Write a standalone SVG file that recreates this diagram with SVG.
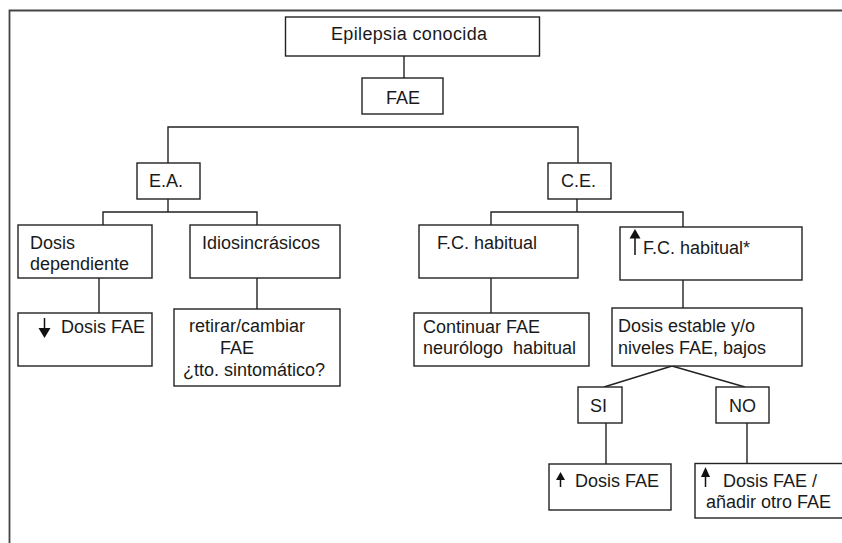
<svg xmlns="http://www.w3.org/2000/svg" width="842" height="543" viewBox="0 0 842 543">
<style>
  .box { fill: #ffffff; stroke: #222222; stroke-width: 1.4; }
  .ln { fill: none; stroke: #222222; stroke-width: 1.4; }
  .t { font-family: "Liberation Sans", Arial, sans-serif; font-size: 18px; fill: #1a1a1a; }
  .m { text-anchor: middle; }
  .arr { fill: #111111; stroke: none; }
  .shaft { stroke: #111111; stroke-width: 1.5; fill: none; }
</style>
<rect x="0" y="0" width="842" height="543" fill="#ffffff"/>
<path d="M9.5,543 V10.5 H842" fill="none" stroke="#444444" stroke-width="1.8"/>

<g id="connectors">
  <line class="ln" x1="404" y1="56" x2="404" y2="78"/>
  <polyline class="ln" points="168,163 168,127 578,127 578,163"/>
  <line class="ln" x1="168" y1="199" x2="168" y2="212"/>
  <polyline class="ln" points="103,225 103,212 257,212 257,225"/>
  <line class="ln" x1="577" y1="199" x2="577" y2="212"/>
  <polyline class="ln" points="491,225 491,212 683,212 683,227"/>
  <line class="ln" x1="99" y1="278" x2="99" y2="313"/>
  <line class="ln" x1="257" y1="278" x2="257" y2="309"/>
  <line class="ln" x1="491" y1="278" x2="491" y2="313"/>
  <line class="ln" x1="683" y1="280" x2="683" y2="308"/>
  <line class="ln" x1="672" y1="366" x2="604" y2="387"/>
  <line class="ln" x1="672" y1="366" x2="745" y2="387"/>
  <line class="ln" x1="606" y1="423" x2="606" y2="464"/>
  <line class="ln" x1="747" y1="423" x2="747" y2="464"/>
</g>

<g id="epilepsia">
  <rect class="box" x="285.5" y="17" width="254" height="39"/>
  <text class="t m" x="409" y="40" textLength="156">Epilepsia conocida</text>
</g>
<g id="fae">
  <rect class="box" x="362" y="78" width="81" height="36"/>
  <text class="t m" x="403" y="104">FAE</text>
</g>
<g id="ea">
  <rect class="box" x="137" y="163" width="63" height="36"/>
  <text class="t" x="149" y="187">E.A.</text>
</g>
<g id="ce">
  <rect class="box" x="548" y="163" width="63" height="36"/>
  <text class="t" x="561" y="187">C.E.</text>
</g>
<g id="dosis-dependiente">
  <rect class="box" x="18" y="225" width="134" height="53"/>
  <text class="t" x="30" y="249">Dosis</text>
  <text class="t" x="30" y="270">dependiente</text>
</g>
<g id="idiosincrasicos">
  <rect class="box" x="190" y="225" width="150" height="53"/>
  <text class="t" x="202" y="249">Idiosincrásicos</text>
</g>
<g id="bajar-dosis">
  <rect class="box" x="18" y="313" width="134" height="53"/>
  <line class="shaft" x1="44.5" y1="318" x2="44.5" y2="330"/>
  <polygon class="arr" points="38.5,328 50.5,328 44.5,338"/>
  <text class="t" x="61" y="333">Dosis FAE</text>
</g>
<g id="retirar">
  <rect class="box" x="174" y="309" width="166" height="77"/>
  <text class="t" x="189" y="332">retirar/cambiar</text>
  <text class="t" x="220" y="354">FAE</text>
  <text class="t" x="183" y="376">¿tto. sintomático?</text>
</g>
<g id="fc-habitual">
  <rect class="box" x="419" y="225" width="159" height="53"/>
  <text class="t" x="437" y="249">F.C. habitual</text>
</g>
<g id="fc-aumentada">
  <rect class="box" x="620" y="227" width="182" height="53"/>
  <line class="shaft" x1="635" y1="236" x2="635" y2="255"/>
  <polygon class="arr" points="629.5,238.5 640.5,238.5 635,229"/>
  <text class="t" x="643" y="254">F.C. habitual*</text>
</g>
<g id="continuar">
  <rect class="box" x="414" y="313" width="175" height="53"/>
  <text class="t" x="423" y="333">Continuar FAE</text>
  <text class="t" x="423" y="354" xml:space="preserve">neurólogo  habitual</text>
</g>
<g id="dosis-estable">
  <rect class="box" x="612" y="308" width="190" height="58"/>
  <text class="t" x="618" y="332">Dosis estable y/o</text>
  <text class="t" x="618" y="354">niveles FAE, bajos</text>
</g>
<g id="si">
  <rect class="box" x="578" y="387" width="44" height="36"/>
  <text class="t" x="590" y="411.5">SI</text>
</g>
<g id="no">
  <rect class="box" x="716" y="387" width="53" height="36"/>
  <text class="t" x="729" y="411.5">NO</text>
</g>
<g id="subir-dosis">
  <rect class="box" x="549" y="464" width="122" height="46"/>
  <line class="shaft" x1="560.5" y1="478" x2="560.5" y2="487"/>
  <polygon class="arr" points="556,480 565,480 560.5,472"/>
  <text class="t" x="575" y="487">Dosis FAE</text>
</g>
<g id="subir-anadir">
  <rect class="box" x="695" y="463.5" width="160" height="54.5"/>
  <line class="shaft" x1="705.5" y1="474" x2="705.5" y2="487"/>
  <polygon class="arr" points="701,477 710,477 705.5,467"/>
  <text class="t" x="723" y="487">Dosis FAE /</text>
  <text class="t" x="706" y="508">añadir otro FAE</text>
</g>
</svg>
